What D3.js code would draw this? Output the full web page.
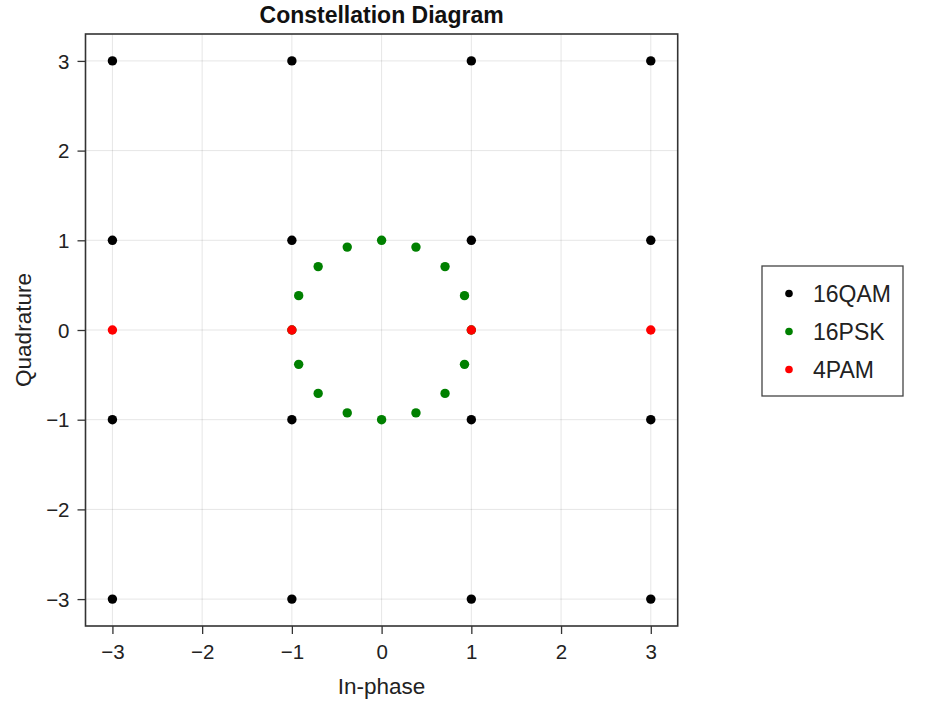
<!DOCTYPE html>
<html>
<head>
<meta charset="utf-8">
<script src="https://cdn.jsdelivr.net/npm/d3@7"></script>
<style>
  body { margin: 0; background: #fff; }
  text { font-family: "Liberation Sans", Arial, sans-serif; }
</style>
</head>
<body>
<div id="chart"></div>
<script>
// constellation points
const qamI = [-3, -3, -3, -3, -1, -1, -1, -1, 1, 1, 1, 1, 3, 3, 3, 3];
const qamQ = [-3, -1, 1, 3, -3, -1, 1, 3, -3, -1, 1, 3, -3, -1, 1, 3];

const pskI = [1, 0.924, 0.707, 0.383, 0, -0.383, -0.707, -0.924, -1, -0.924, -0.707, -0.383, 0, 0.383, 0.707, 0.924];
const pskQ = [0, 0.383, 0.707, 0.924, 1, 0.924, 0.707, 0.383, 0, -0.383, -0.707, -0.924, -1, -0.924, -0.707, -0.383];

const pamI = [-3, -1, 1, 3];
const pamQ = [0, 0, 0, 0];

const seriesNames = ["16QAM", "16PSK", "4PAM"];
const seriesColors = ["#000000", "#008000", "#ff0000"];
const tickValues = [-3, -2, -1, 0, 1, 2, 3];

const width = 925, height = 714;
const margin = {left: 85.5, right: 925 - 677.7, top: 34, bottom: 714 - 626};

const svg = d3.select("#chart").append("svg")
    .attr("width", width)
    .attr("height", height);

const x = d3.scaleLinear().domain([-3.3, 3.3]).range([margin.left, width - margin.right]);
const y = d3.scaleLinear().domain([-3.3, 3.3]).range([height - margin.bottom, margin.top]);

// grid
svg.append("g")
  .selectAll("line")
  .data(tickValues)
  .join("line")
    .attr("x1", d => x(d)).attr("x2", d => x(d))
    .attr("y1", margin.top).attr("y2", height - margin.bottom)
    .attr("stroke", "#000").attr("stroke-opacity", 0.1).attr("stroke-width", 1);

svg.append("g")
  .selectAll("line")
  .data(tickValues)
  .join("line")
    .attr("y1", d => y(d)).attr("y2", d => y(d))
    .attr("x1", margin.left).attr("x2", width - margin.right)
    .attr("stroke", "#000").attr("stroke-opacity", 0.1).attr("stroke-width", 1);

const fmt = d => d < 0 ? "\u2212" + Math.abs(d) : String(d);

// axes
const xAxis = svg.append("g")
    .attr("transform", `translate(0,${height - margin.bottom})`)
    .call(d3.axisBottom(x).tickValues(tickValues).tickFormat(fmt).tickSize(8).tickPadding(10));
const yAxis = svg.append("g")
    .attr("transform", `translate(${margin.left},0)`)
    .call(d3.axisLeft(y).tickValues(tickValues).tickFormat(fmt).tickSize(8).tickPadding(8));

[xAxis, yAxis].forEach(a => {
  a.select(".domain").remove();
  a.selectAll(".tick line").attr("stroke", "#333").attr("stroke-width", 1.3);
  a.selectAll(".tick text")
    .style("font-family", "'Liberation Sans', Arial, sans-serif")
    .style("font-size", "20.5px")
    .attr("fill", "#222");
});
yAxis.selectAll(".tick text").attr("dy", "0.35em");

// frame
svg.append("rect")
    .attr("x", margin.left).attr("y", margin.top)
    .attr("width", width - margin.left - margin.right)
    .attr("height", height - margin.top - margin.bottom)
    .attr("fill", "none").attr("stroke", "#333").attr("stroke-width", 1.6);

// points
const series = [
  qamI.map((d, i) => ({i: d, q: qamQ[i]})),
  pskI.map((d, i) => ({i: d, q: pskQ[i]})),
  pamI.map((d, i) => ({i: d, q: pamQ[i]}))
];

series.forEach((pts, k) => {
  svg.append("g")
    .selectAll("circle")
    .data(pts)
    .join("circle")
      .attr("cx", d => x(d.i))
      .attr("cy", d => y(d.q))
      .attr("r", 4.7)
      .attr("fill", seriesColors[k]);
});

// title and axis labels
svg.append("text")
    .attr("x", (x.range()[0] + x.range()[1]) / 2)
    .attr("y", 23)
    .attr("text-anchor", "middle")
    .style("font-size", "23px")
    .style("font-weight", "bold")
    .attr("fill", "#111")
    .text("Constellation Diagram");

svg.append("text")
    .attr("x", (x.range()[0] + x.range()[1]) / 2)
    .attr("y", 694)
    .attr("text-anchor", "middle")
    .style("font-size", "22.5px")
    .attr("fill", "#222")
    .text("In-phase");

svg.append("text")
    .attr("transform", `translate(31,${(y.range()[0] + y.range()[1]) / 2}) rotate(-90)`)
    .attr("text-anchor", "middle")
    .style("font-size", "22.5px")
    .attr("fill", "#222")
    .text("Quadrature");

// legend
const legend = svg.append("g");
legend.append("rect")
    .attr("x", 762).attr("y", 266)
    .attr("width", 141).attr("height", 130)
    .attr("fill", "#fff").attr("stroke", "#444").attr("stroke-width", 1.3);

const rows = legend.selectAll("g.row")
  .data(seriesNames)
  .join("g")
    .attr("class", "row")
    .attr("transform", (d, i) => `translate(789,${293.5 + i * 38})`);

rows.append("circle")
    .attr("r", 3.8)
    .attr("fill", (d, i) => seriesColors[i]);

rows.append("text")
    .attr("x", 24)
    .attr("dy", "0.35em")
    .style("font-size", "23px")
    .attr("fill", "#222")
    .text(d => d);
</script>
</body>
</html>
